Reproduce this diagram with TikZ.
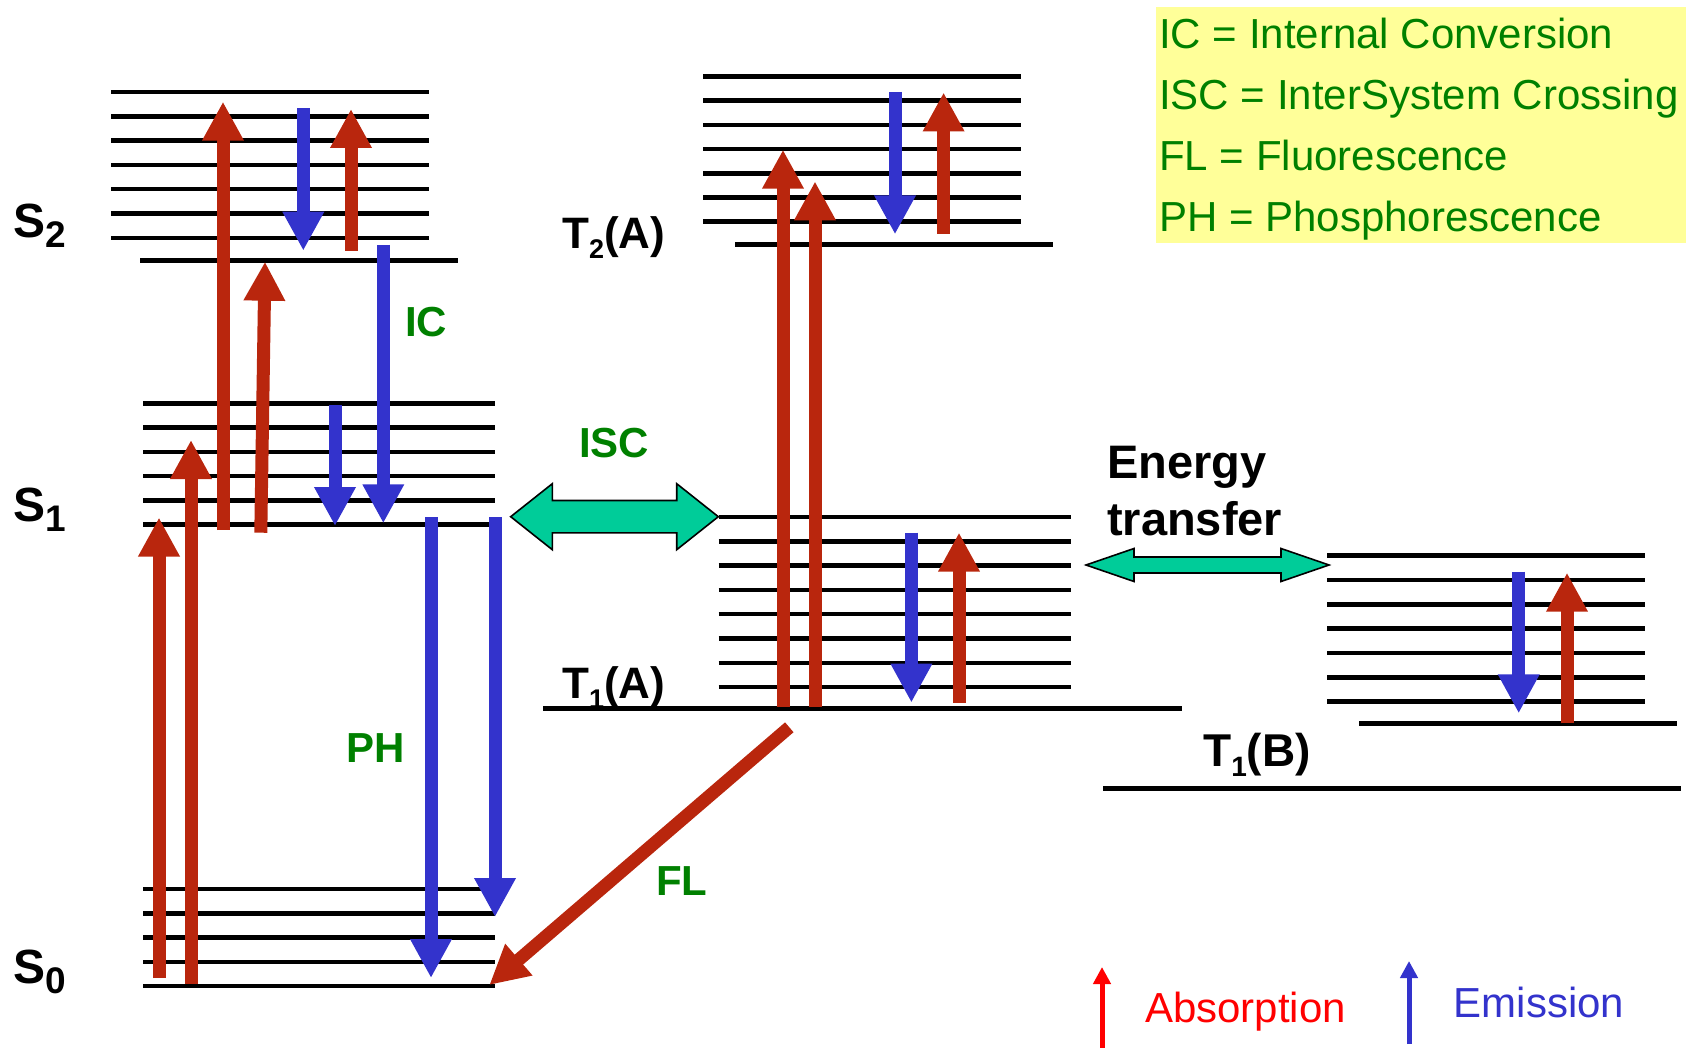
\documentclass[tikz,border=0pt]{standalone}
\usepackage{fontspec}
\setmainfont{Liberation Sans}
\usetikzlibrary{arrows.meta}
\definecolor{absred}{RGB}{185,38,13}
\definecolor{emblue}{RGB}{51,51,204}
\definecolor{xfer}{RGB}{0,204,153}
\definecolor{legendbg}{RGB}{255,255,153}
\definecolor{procgreen}{RGB}{0,128,0}
\newcommand{\stsub}[2]{\raisebox{-10pt}{\fontsize{#1}{#1}\selectfont #2}}
\tikzset{
	lvl/.style={line width=4.5pt},
	absorb/.style={draw=absred,line width=13pt,-{Triangle[width=39pt,length=39pt]}},
	emit/.style={draw=emblue,line width=13pt,-{Triangle[width=39pt,length=39pt]}},
	xarrow/.style={fill=xfer,draw=black,line width=1.6pt,line join=miter},
	statelbl/.style={anchor=base west,inner sep=0pt,font=\fontsize{44}{52}\selectfont\bfseries},
	proclbl/.style={anchor=base west,inner sep=0pt,text=procgreen,font=\fontsize{42}{50}\selectfont\bfseries},
	keytxt/.style={anchor=base west,inner sep=0pt,font=\fontsize{42}{50}\selectfont}
}

\begin{document}
\begin{tikzpicture}[x=1pt,y=-1pt]
	\useasboundingbox (0,0) rectangle (1686,1048);
	% legend (base anchor sits on the last line)
	\fill[legendbg] (1156,7) rectangle (1686,243);
	\node[keytxt,align=left,text=procgreen,font=\fontsize{42}{61.3}\selectfont] (legend) at (1159,232) {IC = Internal Conversion\\ISC = InterSystem Crossing\\FL = Fluorescence\\PH = Phosphorescence};
	% singlet levels
	\foreach \i in {0,...,6} \draw[lvl] (111,{92+24.3*\i}) -- (429,{92+24.3*\i});
	\draw[lvl] (140,260.3) -- (458,260.3);
	\foreach \i in {0,...,5} \draw[lvl] (143,{403.3+24.28*\i}) -- (495,{403.3+24.28*\i});
	\foreach \i in {0,...,4} \draw[lvl] (143,{889+24.3*\i}) -- (495,{889+24.3*\i});
	% triplet levels, molecule A
	\foreach \i in {0,...,6} \draw[lvl] (703,{76.5+24.2*\i}) -- (1021,{76.5+24.2*\i});
	\draw[lvl] (735,244.7) -- (1053,244.7);
	\foreach \i in {0,...,7} \draw[lvl] (718.6,{517+24.3*\i}) -- (1071,{517+24.3*\i});
	\draw[lvl] (543,708.7) -- (1182,708.7);
	% triplet levels, molecule B
	\foreach \i in {0,...,6} \draw[lvl] (1327.4,{555.7+24.33*\i}) -- (1645,{555.7+24.33*\i});
	\draw[lvl] (1359,723.7) -- (1677,723.7);
	\draw[lvl] (1103,788.3) -- (1681,788.3);
	% state labels
	\node[statelbl,font=\fontsize{48}{56}\selectfont\bfseries] (s2) at (13,238) {S\stsub{37}{2}};
	\node[statelbl,font=\fontsize{48}{56}\selectfont\bfseries] (s1) at (13,521) {S\stsub{37}{1}};
	\node[statelbl,font=\fontsize{48}{56}\selectfont\bfseries] (s0) at (13,983) {S\stsub{37}{0}};
	\node[statelbl] (t2a) at (562,248.5) {T\stsub{27}{2}(A)};
	\node[statelbl] (t1a) at (562,698) {T\stsub{27}{1}(A)};
	\node[statelbl,font=\fontsize{46}{54}\selectfont\bfseries] (t1b) at (1203,766) {T\stsub{28}{1}(B)};
	% singlet transitions
	\draw[absorb] (159,978) -- (159,517.5);
	\draw[absorb] (191,984) -- (191,440);
	\draw[absorb] (223,530) -- (223,101.7);
	\draw[absorb] (260.8,532.7) -- (265,261.7);
	\draw[absorb] (351,251) -- (351,109);
	\draw[emit] (303.3,108.3) -- (303.3,250.7);
	\draw[emit] (383.3,245) -- (383.3,523.3);
	\draw[emit] (335,405) -- (335,526);
	\draw[emit] (431,517) -- (431,978);
	\draw[emit] (495,517) -- (495,917);
	% triplet A transitions
	\draw[absorb] (783,707) -- (783,149.7);
	\draw[absorb] (815,707) -- (815,181.4);
	\draw[emit] (895,92) -- (895,234.3);
	\draw[absorb] (943.6,234) -- (943.6,92.5);
	\draw[emit] (911.4,532.6) -- (911.4,702.6);
	\draw[absorb] (959,702.6) -- (959,532.6);
	\draw[absorb] (789.3,727.3) -- (489.3,985);
	% triplet B transitions
	\draw[emit] (1518.7,571.7) -- (1518.7,713.3);
	\draw[absorb] (1567,723.3) -- (1567,572.7);
	% ISC and energy transfer
	\draw[xarrow] (510.7,516.7) -- (552.3,483.7) -- (552.3,500.5) -- (676.7,500.5) -- (676.7,483.7) -- (718.3,516.7) -- (676.7,549.7) -- (676.7,532.9) -- (552.3,532.9) -- (552.3,549.7) -- cycle;
	\draw[xarrow] (1086,565) -- (1134,548.5) -- (1134,557) -- (1281,557) -- (1281,548.5) -- (1329,565) -- (1281,581.5) -- (1281,573) -- (1134,573) -- (1134,581.5) -- cycle;
	\node[statelbl,align=left,font=\fontsize{47}{57}\selectfont\bfseries] (transfer) at (1107,535) {Energy\\transfer};
	% process labels
	\node[proclbl] (ic) at (405,337) {IC};
	\node[proclbl] (isc) at (579,457) {ISC};
	\node[proclbl] (ph) at (346,762) {PH};
	\node[proclbl] (fl) at (656,895) {FL};
	% key
	\draw[draw=red,line width=5pt,-{Triangle[width=17pt,length=17pt]}] (1102,1048) -- (1102,967);
	\node[keytxt,text=red] (absorption) at (1145,1022.7) {Absorption};
	\draw[draw=emblue,line width=5pt,-{Triangle[width=17pt,length=17pt]}] (1409,1044) -- (1409,961);
	\node[keytxt,text=emblue] (emission) at (1453.6,1017.3) {Emission};
\end{tikzpicture}
\end{document}
